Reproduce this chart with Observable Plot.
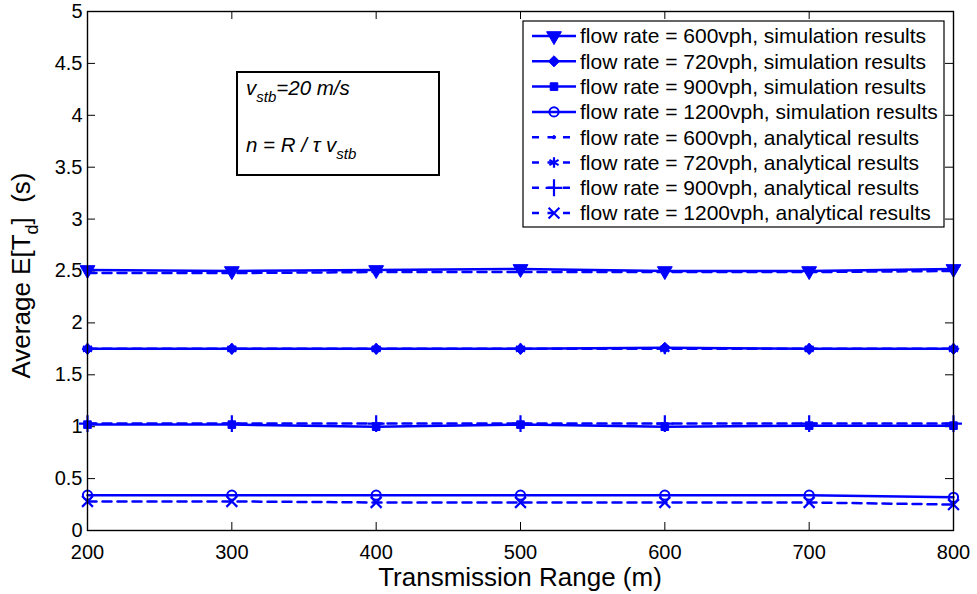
<!DOCTYPE html>
<html><head><meta charset="utf-8">
<script src="https://cdn.jsdelivr.net/npm/d3@7"></script>
<script src="https://cdn.jsdelivr.net/npm/@observablehq/plot@0.6"></script>
<style>body{margin:0;background:#fff} #chart svg{display:block}</style>
</head><body><div id="chart"></div>
<script>
// ---- data ----
const ranges = [200, 300, 400, 500, 600, 700, 800];
const sim600  = [2.51, 2.50, 2.51, 2.52, 2.50, 2.50, 2.52];
const sim720  = [1.75, 1.75, 1.75, 1.75, 1.76, 1.75, 1.75];
const sim900  = [1.02, 1.02, 1.00, 1.02, 1.00, 1.01, 1.01];
const sim1200 = [0.34, 0.34, 0.34, 0.34, 0.34, 0.34, 0.32];
const ana600  = [2.48, 2.48, 2.49, 2.49, 2.49, 2.49, 2.50];
const ana720  = [1.75, 1.75, 1.75, 1.75, 1.75, 1.75, 1.75];
const ana900  = [1.03, 1.03, 1.03, 1.03, 1.03, 1.03, 1.03];
const ana1200 = [0.28, 0.28, 0.27, 0.27, 0.27, 0.27, 0.25];
const xTicks = [200, 300, 400, 500, 600, 700, 800];
const yTicks = [0, 0.5, 1, 1.5, 2, 2.5, 3, 3.5, 4, 4.5, 5];
const yTickLabels = ["0", "0.5", "1", "1.5", "2", "2.5", "3", "3.5", "4", "4.5", "5"];
const legendLabels = [
  "flow rate = 600vph, simulation results",
  "flow rate = 720vph, simulation results",
  "flow rate = 900vph, simulation results",
  "flow rate = 1200vph, simulation results",
  "flow rate = 600vph, analytical results",
  "flow rate = 720vph, analytical results",
  "flow rate = 900vph, analytical results",
  "flow rate = 1200vph, analytical results"
];
const xTitle = "Transmission Range (m)";

// ---- styles ----
const BLUE = "#0000ff";
const FONT = "Liberation Sans, Arial, Helvetica, sans-serif";
const series = [
  {key: "s600",  values: sim600,  dash: null,  symbol: "triangle", rotate: 180, r: 5.5, fill: BLUE,   stroke: BLUE, sw: 1},
  {key: "s720",  values: sim720,  dash: null,  symbol: "diamond2", rotate: 0,   r: 5,   fill: BLUE,   stroke: BLUE, sw: 1},
  {key: "s900",  values: sim900,  dash: null,  symbol: "square",   rotate: 0,   r: 4.3, fill: BLUE,   stroke: BLUE, sw: 1},
  {key: "s1200", values: sim1200, dash: null,  symbol: "circle",   rotate: 0,   r: 4.6, fill: "none", stroke: BLUE, sw: 2},
  {key: "a600",  values: ana600,  dash: "9,6", symbol: "circle",   rotate: 0,   r: 1.6, fill: BLUE,   stroke: BLUE, sw: 1},
  {key: "a720",  values: ana720,  dash: "9,6", symbol: "asterisk", rotate: 0,   r: 5,   fill: "none", stroke: BLUE, sw: 2.2},
  {key: "a900",  values: ana900,  dash: "9,6", symbol: "plus",     rotate: 0,   r: 5.5, fill: "none", stroke: BLUE, sw: 2.2},
  {key: "a1200", values: ana1200, dash: "9,6", symbol: "times",    rotate: 0,   r: 5,   fill: "none", stroke: BLUE, sw: 2.2}
];
const rows = series.flatMap(s => ranges.map((r, i) => ({series: s.key, range: r, value: s.values[i]})));

const W = 977, H = 594, mL = 87, mR = 24, mT = 11, mB = 64;
const pW = W - mL - mR, pH = H - mT - mB, TK = 8;

const marks = [
  Plot.ruleY(yTicks, {stroke: "black", insetRight: pW - TK}),
  Plot.ruleY(yTicks, {stroke: "black", insetLeft: pW - TK}),
  Plot.ruleX(xTicks, {stroke: "black", insetTop: pH - TK}),
  Plot.ruleX(xTicks, {stroke: "black", insetBottom: pH - TK})
];
for (const s of series) {
  const d = rows.filter(r => r.series === s.key);
  marks.push(Plot.line(d, {x: "range", y: "value", stroke: BLUE, strokeWidth: 2.5, strokeDasharray: s.dash}));
  marks.push(Plot.dot(d, {x: "range", y: "value", symbol: s.symbol, r: s.r, rotate: s.rotate, fill: s.fill, stroke: s.stroke, strokeWidth: s.sw}));
}
marks.push(Plot.frame({stroke: "black", strokeWidth: 1.4}));

const plot = Plot.plot({
  width: W, height: H,
  marginLeft: mL, marginRight: mR, marginTop: mT, marginBottom: mB,
  style: {fontFamily: FONT, fontSize: "20px", background: "white", color: "black"},
  x: {domain: [200, 800], ticks: xTicks, tickSize: 0, tickPadding: 14, label: null},
  y: {domain: [0, 5], ticks: yTicks, tickSize: 0, tickPadding: 5, label: null,
      tickFormat: v => yTickLabels[yTicks.indexOf(v)]},
  marks
});
document.getElementById("chart").appendChild(plot);

// ---- annotations, legend, titles ----
const svg = d3.select(plot);
const fg = svg.append("g").attr("font-family", FONT).attr("fill", "black").attr("text-anchor", "start");

// x title
fg.append("text").attr("x", mL + pW / 2).attr("y", 586).attr("text-anchor", "middle")
  .attr("font-size", 26).text(xTitle);

// y title with subscript
const yt = fg.append("text").attr("transform", `translate(30,${mT + pH / 2 + 5}) rotate(-90)`)
  .attr("font-size", 26).attr("text-anchor", "middle");
yt.append("tspan").text("Average E[T");
yt.append("tspan").attr("font-size", 18).attr("dy", 8).text("d");
yt.append("tspan").attr("dy", -8).text("]\u00a0\u00a0(s)");

// annotation box
fg.append("rect").attr("x", 237).attr("y", 72).attr("width", 202).attr("height", 103)
  .attr("fill", "white").attr("stroke", "black").attr("stroke-width", 2);
const t1 = fg.append("text").attr("x", 246).attr("y", 95).attr("font-size", 20.5).attr("font-style", "italic");
t1.append("tspan").text("v");
t1.append("tspan").attr("font-size", 15).attr("dy", 7).text("stb");
t1.append("tspan").attr("dy", -7).text("=20 m/s");
const t2 = fg.append("text").attr("x", 246).attr("y", 152).attr("font-size", 20.5).attr("font-style", "italic");
t2.append("tspan").text("n = R / \u03c4 v");
t2.append("tspan").attr("font-size", 15).attr("dy", 7).text("stb");

// legend
const lg = fg.append("g");
lg.append("rect").attr("x", 523).attr("y", 21).attr("width", 421).attr("height", 206)
  .attr("fill", "white").attr("stroke", "black").attr("stroke-width", 1.2);
const symMap = {triangle: d3.symbolTriangle, diamond2: d3.symbolDiamond2, square: d3.symbolSquare,
  circle: d3.symbolCircle, asterisk: d3.symbolAsterisk, plus: d3.symbolPlus, times: d3.symbolX};
series.forEach((s, i) => {
  const cy = 36 + i * 25.3;
  lg.append("line").attr("x1", 532).attr("x2", 576).attr("y1", cy).attr("y2", cy)
    .attr("stroke", BLUE).attr("stroke-width", 2.5).attr("stroke-dasharray", s.dash ? "7,8.5" : null);
  lg.append("path").attr("d", d3.symbol(symMap[s.symbol], s.r * s.r * Math.PI)())
    .attr("transform", `translate(554,${cy}) rotate(${s.rotate})`)
    .attr("fill", s.fill).attr("stroke", s.stroke).attr("stroke-width", s.sw);
  lg.append("text").attr("x", 580).attr("y", cy).attr("dy", "0.35em").attr("font-size", 21)
    .text(legendLabels[i]);
});
</script></body></html>
